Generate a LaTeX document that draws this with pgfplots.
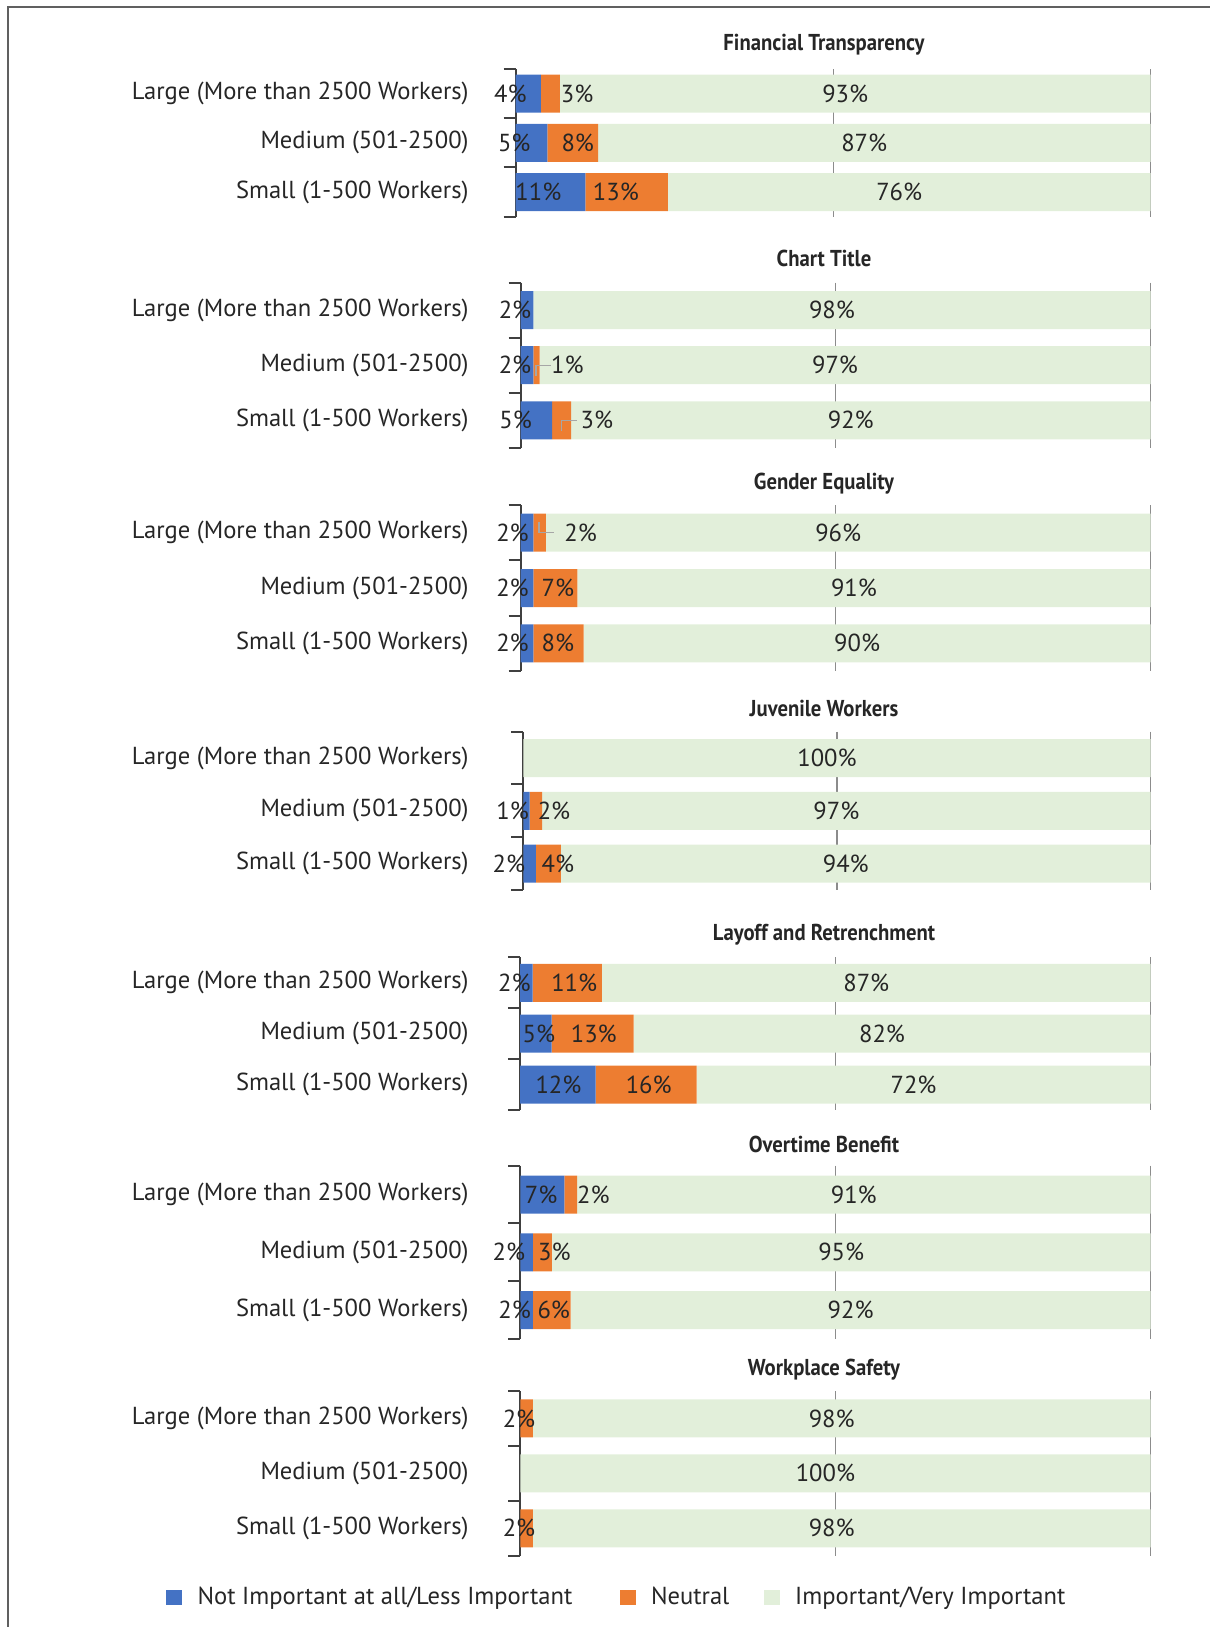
\documentclass[border=0pt]{standalone}
\usepackage{pgfplots}
\pgfplotsset{compat=1.18}
\usepackage{fontspec}
\setmainfont{PT Sans}
\newfontfamily\titlefont{PT Sans}[FakeStretch=0.9]
\definecolor{cblue}{HTML}{4472C4}
\definecolor{corange}{HTML}{ED7D31}
\definecolor{cgreen}{HTML}{E2EFDA}
\definecolor{ctext}{HTML}{262626}
\definecolor{caxis}{HTML}{404040}
\definecolor{cgrid}{HTML}{8C8C8C}
\definecolor{cframe}{HTML}{606060}
\definecolor{clead}{HTML}{A6A6A6}
\newcommand\lblfont{\fontsize{12.3pt}{14.5pt}\selectfont}
\newcommand\ttlfont{\titlefont\bfseries\fontsize{11.5pt}{13.5pt}\selectfont}
\pgfplotsset{
  base/.style n args={4}{scale only axis, anchor=north west, at={(#1pt,-#2pt)},
     width=#3pt, height=#4pt, xmin=0, xmax=100, ymin=0.5, ymax=3.5, y dir=reverse, clip=false},
  bars/.style={
    xbar stacked, bar width=19pt,
    axis lines*=left,
    x axis line style={draw=none},
    y axis line style={draw=caxis, line width=1pt},
    ytick={1,2,3},
    yticklabels={Large (More than 2500 Workers), Medium (501-2500), Small (1-500 Workers)},
    major tick length=0pt, tick align=outside,
    yticklabel style={anchor=east, inner sep=0pt, font=\lblfont, text=ctext, xshift=-#1pt},
    extra y ticks={0.5,1.5,2.5,3.5}, extra y tick labels={},
    extra y tick style={major tick length=6pt, tick style={draw=caxis, line width=1pt}},
    xtick={50,100}, xticklabels={}, xmajorgrids,
    x grid style={draw=cgrid, line width=0.6pt},
    xtick style={draw=none},
  },
  over/.style={hide axis},
}
\newcommand\lbl[3]{\addplot[only marks, mark=text, text mark={#3}, text mark as node=true,
  text mark style={font=\lblfont, text=ctext, inner sep=0pt, anchor=center}, forget plot] coordinates {(#1,#2)};}
\newcommand\lead[1]{\addplot[clead, line width=0.7pt, forget plot, mark=none] coordinates {#1};}
\newcommand\bb{\addplot[fill=cblue, draw=none]}
\newcommand\bo{\addplot[fill=corange, draw=none]}
\newcommand\bg{\addplot[fill=cgreen, draw=none]}
\begin{document}
\begin{tikzpicture}
\useasboundingbox (0,0) rectangle (605pt,-813.5pt);
\draw[cframe, line width=1pt] (4pt,-813.5pt) -- (4pt,-3.5pt) -- (605pt,-3.5pt);

% ---------- Panel 1
\node[font=\ttlfont, text=ctext, anchor=base] at (412pt,-25.4pt) {Financial Transparency};
\begin{axis}[base={257.75}{34.5}{317.6}{73.85}, bars=23.25]
\bb coordinates {(4,1) (5,2) (11,3)};
\bo coordinates {(3,1) (8,2) (13,3)};
\bg coordinates {(93,1) (87,2) (76,3)};
\end{axis}
\begin{axis}[base={257.75}{34.5}{317.6}{73.85}, over]
\lbl{-0.8}{1}{4\%}\lbl{9.7}{1}{3\%}\lbl{51.9}{1}{93\%}
\lbl{-0.2}{2}{5\%}\lbl{9.8}{2}{8\%}\lbl{54.9}{2}{87\%}
\lbl{3.6}{3}{11\%}\lbl{15.8}{3}{13\%}\lbl{60.4}{3}{76\%}
\end{axis}

% ---------- Panel 2
\node[font=\ttlfont, text=ctext, anchor=base] at (412pt,-133.45pt) {Chart Title};
\begin{axis}[base={260.35}{141.25}{315}{82.7}, bars=25.85]
\bb coordinates {(2,1) (2,2) (5,3)};
\bo coordinates {(0,1) (1,2) (3,3)};
\bg coordinates {(98,1) (97,2) (92,3)};
\end{axis}
\begin{axis}[base={260.35}{141.25}{315}{82.7}, over]
\lead{(2.43,2.19) (2.43,2.01) (4.76,2.01)}
\lead{(6.5,3.185) (6.5,3.0) (8.9,3.0)}
\lbl{-0.9}{1}{2\%}\lbl{49.4}{1}{98\%}
\lbl{-0.9}{2}{2\%}\lbl{7.4}{2}{1\%}\lbl{49.9}{2}{97\%}
\lbl{-0.8}{3}{5\%}\lbl{12.1}{3}{3\%}\lbl{52.4}{3}{92\%}
\end{axis}

% ---------- Panel 3
\node[font=\ttlfont, text=ctext, anchor=base] at (412pt,-244.5pt) {Gender Equality};
\begin{axis}[base={260.35}{252.5}{315}{83}, bars=25.85]
\bb coordinates {(2,1) (2,2) (2,3)};
\bo coordinates {(2,1) (7,2) (8,3)};
\bg coordinates {(96,1) (91,2) (90,3)};
\end{axis}
\begin{axis}[base={260.35}{252.5}{315}{83}, over]
\lead{(2.9,0.807) (2.9,0.995) (5.33,0.995)}
\lbl{-1.3}{1}{2\%}\lbl{9.5}{1}{2\%}\lbl{50.4}{1}{96\%}
\lbl{-1.3}{2}{2\%}\lbl{5.9}{2}{7\%}\lbl{52.9}{2}{91\%}
\lbl{-1.3}{3}{2\%}\lbl{5.9}{3}{8\%}\lbl{53.4}{3}{90\%}
\end{axis}

% ---------- Panel 4
\node[font=\ttlfont, text=ctext, anchor=base] at (412pt,-358.1pt) {Juvenile Workers};
\begin{axis}[base={261.65}{365.85}{313.7}{79.15}, bars=27.15]
\bb coordinates {(0,1) (1,2) (2,3)};
\bo coordinates {(0,1) (2,2) (4,3)};
\bg coordinates {(100,1) (97,2) (94,3)};
\end{axis}
\begin{axis}[base={261.65}{365.85}{313.7}{79.15}, over]
\lbl{48.4}{1}{100\%}
\lbl{-1.7}{2}{1\%}\lbl{4.9}{2}{2\%}\lbl{49.9}{2}{97\%}
\lbl{-2.3}{3}{2\%}\lbl{5.5}{3}{4\%}\lbl{51.4}{3}{94\%}
\end{axis}

% ---------- Panel 5
\node[font=\ttlfont, text=ctext, anchor=base] at (412pt,-470pt) {Layoff and Retrenchment};
\begin{axis}[base={260}{478.65}{315.35}{76.35}, bars=25.5]
\bb coordinates {(2,1) (5,2) (12,3)};
\bo coordinates {(11,1) (13,2) (16,3)};
\bg coordinates {(87,1) (82,2) (72,3)};
\end{axis}
\begin{axis}[base={260}{478.65}{315.35}{76.35}, over]
\lbl{-0.9}{1}{2\%}\lbl{8.6}{1}{11\%}\lbl{54.9}{1}{87\%}
\lbl{3.0}{2}{5\%}\lbl{11.7}{2}{13\%}\lbl{57.4}{2}{82\%}
\lbl{6.1}{3}{12\%}\lbl{20.4}{3}{16\%}\lbl{62.4}{3}{72\%}
\end{axis}

% ---------- Panel 6
\node[font=\ttlfont, text=ctext, anchor=base] at (412pt,-576.05pt) {Overtime Benefit};
\begin{axis}[base={260.15}{582.85}{315.2}{86.65}, bars=25.65]
\bb coordinates {(7,1) (2,2) (2,3)};
\bo coordinates {(2,1) (3,2) (6,3)};
\bg coordinates {(91,1) (95,2) (92,3)};
\end{axis}
\begin{axis}[base={260.15}{582.85}{315.2}{86.65}, over]
\lbl{3.3}{1}{7\%}\lbl{11.6}{1}{2\%}\lbl{52.9}{1}{91\%}
\lbl{-1.8}{2}{2\%}\lbl{5.4}{2}{3\%}\lbl{50.9}{2}{95\%}
\lbl{-0.9}{3}{2\%}\lbl{5.3}{3}{6\%}\lbl{52.4}{3}{92\%}
\end{axis}

% ---------- Panel 7
\node[font=\ttlfont, text=ctext, anchor=base] at (412pt,-687.6pt) {Workplace Safety};
\begin{axis}[base={260.15}{695.5}{315.2}{82.35}, bars=25.65]
\bb coordinates {(0,1) (0,2) (0,3)};
\bo coordinates {(2,1) (0,2) (2,3)};
\bg coordinates {(98,1) (100,2) (98,3)};
\end{axis}
\begin{axis}[base={260.15}{695.5}{315.2}{82.35}, over]
\lbl{-0.2}{1}{2\%}\lbl{49.4}{1}{98\%}
\lbl{48.4}{2}{100\%}
\lbl{-0.2}{3}{2\%}\lbl{49.4}{3}{98\%}
\end{axis}

% ---------- Legend
\begin{axis}[base={260.15}{695.5}{315.2}{82.35}, over,
  legend style={at={(axis description cs:-0.5625,-0.2508)}, anchor=west, draw=none, fill=none,
    inner sep=0pt, outer sep=0pt, font=\lblfont, text=ctext, nodes={inner sep=0pt}},
  legend columns=3, legend cell align=left,
  legend image code/.code={\fill[#1, draw=none] (0pt,-3.75pt) rectangle (8pt,3.75pt);}]
\addlegendimage{fill=cblue}
\addlegendentry{\makebox[219.05pt][l]{\hspace{7.95pt}Not Important at all/Less Important}}
\addlegendimage{fill=corange}
\addlegendentry{\makebox[64.05pt][l]{\hspace{7.6pt}Neutral}}
\addlegendimage{fill=cgreen}
\addlegendentry{\hspace{7.65pt}Important/Very Important}
\end{axis}
\end{tikzpicture}
\end{document}
